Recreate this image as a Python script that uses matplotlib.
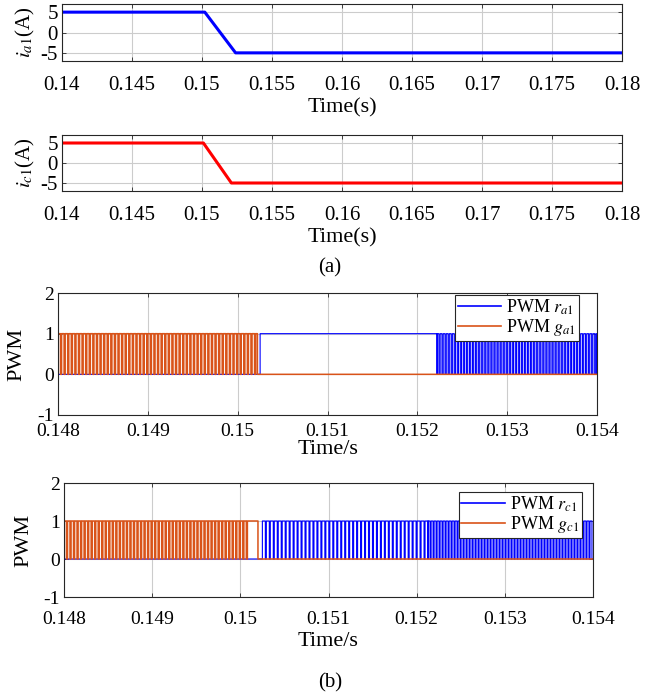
import numpy as np
import matplotlib
matplotlib.use("Agg")
import matplotlib.pyplot as plt

plt.rcParams['font.family'] = ['Liberation Serif', 'DejaVu Serif']
plt.rcParams['mathtext.fontset'] = 'stix'

# ---------------- data ----------------
# (a) phase currents: piecewise-linear breakpoints
t_ia1 = [0.14, 0.1502, 0.1524, 0.18]
i_a1 = [5, 5, -5, -5]
t_ic1 = [0.14, 0.1501, 0.1521, 0.18]
i_c1 = [5, 5, -5, -5]
xticks_a = [0.14, 0.145, 0.15, 0.155, 0.16, 0.165, 0.17, 0.175, 0.18]
xticklabels_a = ['0.14', '0.145', '0.15', '0.155', '0.16', '0.165', '0.17', '0.175', '0.18']
yticks_a = [-5, 0, 5]

# (b) PWM signals: segments (start, end, switching period or None, duty / constant level)
r_a1_segments = [(0.148, 0.15025, None, 0), (0.15025, 0.15222, None, 1), (0.15222, 0.154, 34e-6, 0.6)]
g_a1_segments = [(0.148, 0.15022, 40e-6, 0.7), (0.15022, 0.154, None, 0)]
r_c1_segments = [(0.148, 0.15025, None, 0), (0.15025, 0.15213, 45e-6, 0.75), (0.15213, 0.154, 34e-6, 0.65)]
g_c1_segments = [(0.148, 0.15008, 40e-6, 0.7), (0.15008, 0.1502, None, 1), (0.1502, 0.154, None, 0)]
xticks_b = [0.148, 0.149, 0.15, 0.151, 0.152, 0.153, 0.154]
xticklabels_b = ['0.148', '0.149', '0.15', '0.151', '0.152', '0.153', '0.154']
yticks_b = [-1, 0, 1, 2]


def build(segs):
    t, y = [], []
    for t0, t1, period, duty in segs:
        if period is None:
            t += [t0, t1]
            y += [duty, duty]
        else:
            for s in np.arange(t0, t1 - 1e-12, period):
                e = min(s + duty * period, t1)
                t += [s, s, e, e]
                y += [0, 1, 1, 0]
            t += [t1]
            y += [0]
    return np.array(t), np.array(y)


BLUE = (0, 0, 1)
RED = (1, 0, 0)
ORANGE = (0.85, 0.325, 0.098)
AXC = (0.15, 0.15, 0.15)

W, H = 670, 695
fig = plt.figure(figsize=(W / 100, H / 100), dpi=100)


def ax_px(x0, x1, y0, y1):
    return fig.add_axes([x0 / W, 1 - y1 / H, (x1 - x0) / W, (y1 - y0) / H])


def style(ax, tfs, xpad):
    for s in ax.spines.values():
        s.set_color(AXC)
        s.set_linewidth(0.8)
    ax.tick_params(direction='in', length=3, width=0.6, colors=AXC, labelsize=tfs,
                   labelcolor='k', top=True, right=True)
    ax.tick_params(axis='x', pad=xpad)
    ax.tick_params(axis='y', pad=3)
    ax.grid(True, color=(0.8, 0.8, 0.8), linewidth=0.8)
    ax.set_axisbelow(True)


# ---- (a) currents ----
ax1 = ax_px(62, 622, 4, 61)
ax1.plot(t_ia1, i_a1, color=BLUE, lw=2.2)
ax2 = ax_px(62, 622, 135, 191)
ax2.plot(t_ic1, i_c1, color=RED, lw=2.2)
for ax, lab in [(ax1, r'$i_{a\mathrm{1}}$(A)'), (ax2, r'$i_{c\mathrm{1}}$(A)')]:
    style(ax, 15, 11)
    ax.set_xlim(0.14, 0.18)
    ax.set_ylim(-7, 7)
    ax.set_xticks(xticks_a)
    ax.set_xticklabels(xticklabels_a)
    ax.set_yticks(yticks_a)
    ax.set_yticklabels(['-5', '0', '5'])
    ax.set_ylabel(lab, fontsize=15)
    ax.yaxis.label.set_va('center')
    ax.yaxis.set_label_coords(-0.066, 0.5)
    ax.set_xlabel('Time(s)', fontsize=16)
    ax.xaxis.label.set_va('center')
ax1.xaxis.set_label_coords(0.5, -0.82)
ax2.xaxis.set_label_coords(0.5, -0.84)
fig.text(330 / W, 1 - 268 / H, '(a)', fontsize=15, ha='center', va='center')

# ---- (b) PWM ----
ax3 = ax_px(58, 597, 293, 415)
ax4 = ax_px(64, 593, 483, 597)
for ax, rs, gs, sub, xpad, anchor in [
        (ax3, r_a1_segments, g_a1_segments, 'a', 6, (0.9666, 0.985)),
        (ax4, r_c1_segments, g_c1_segments, 'c', 10, (0.979, 0.921))]:
    style(ax, 14, xpad)
    tr, yr = build(rs)
    tg, yg = build(gs)
    lr, = ax.plot(tr, yr, color=BLUE, lw=0.8, label=r'PWM $r_{%s\mathrm{1}}$' % sub)
    lg, = ax.plot(tg, yg, color=ORANGE, lw=1.1, label=r'PWM $g_{%s\mathrm{1}}$' % sub)
    lr.set_snap(False)
    lg.set_snap(False)
    ax.set_xlim(0.148, 0.154)
    ax.set_ylim(-1, 2)
    ax.set_xticks(xticks_b)
    ax.set_xticklabels(xticklabels_b)
    ax.set_yticks(yticks_b)
    ax.set_yticklabels(['-1', '0', '1', '2'])
    ax.set_ylabel('PWM', fontsize=16)
    ax.yaxis.label.set_va('center')
    ax.set_xlabel('Time/s', fontsize=16)
    ax.xaxis.label.set_va('center')
    leg = ax.legend(loc='upper right', bbox_to_anchor=anchor, fontsize=13, frameon=True,
                    fancybox=False, framealpha=1, edgecolor=AXC, handlelength=2.4,
                    handletextpad=0.3, borderpad=0.15, labelspacing=0.0, borderaxespad=0)
    leg.get_frame().set_linewidth(0.8)
    for h in leg.get_lines():
        h.set_linewidth(1.2)
ax3.yaxis.set_label_coords((17 - 58) / 539, 0.5)
ax4.yaxis.set_label_coords((24 - 64) / 529, 0.5)
ax3.xaxis.set_label_coords(0.5, -(450 - 415) / 122)
ax4.xaxis.set_label_coords(0.5, -(641 - 597) / 114)
fig.text(330 / W, 1 - 683 / H, '(b)', fontsize=15, ha='center', va='center')

fig.savefig('out.png', dpi=100)
